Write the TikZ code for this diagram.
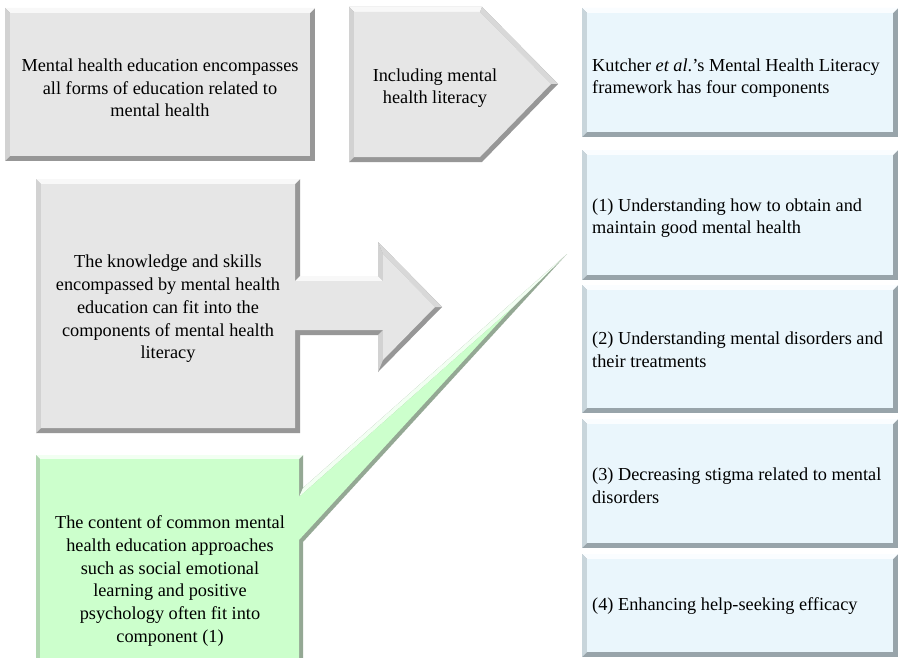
\documentclass[tikz,border=0pt]{standalone}
\usepackage{fontspec}
\setmainfont{Liberation Serif}
\definecolor{gmain}{HTML}{E6E6E6}
\definecolor{gtop}{HTML}{F8F8F8}
\definecolor{gleft}{HTML}{D2D2D2}
\definecolor{gslant}{HTML}{D8D8D8}
\definecolor{gdark}{HTML}{979797}
\definecolor{bmain}{HTML}{EAF6FC}
\definecolor{btop}{HTML}{FAFDFF}
\definecolor{bleft}{HTML}{C8D5DB}
\definecolor{bdark}{HTML}{98A4AA}
\definecolor{nmain}{HTML}{CCFFCC}
\definecolor{ntop}{HTML}{F2FFF2}
\definecolor{nleft}{HTML}{B0D6B0}
\definecolor{ndark}{HTML}{94A894}
\newcommand{\bevrect}[5]{%
  \fill[#5dark] (#1,#2) rectangle (#3,#4);
  \fill[#5top] (#1,#2) -- (#3,#2) -- ({#3-5},{#2+5}) -- ({#1+5},{#2+5}) -- cycle;
  \fill[#5left] (#1,#4) -- (#1,#2) -- ({#1+5},{#2+5}) -- ({#1+5},{#4-5}) -- cycle;
  \fill[#5main] ({#1+5},{#2+5}) rectangle ({#3-5},{#4-5});
}
\tikzset{
  txt/.style={font=\fontsize{18.3}{22.7}\selectfont, inner sep=0pt, text=black},
  ctxt/.style={txt, align=center},
  ltxt/.style={txt, align=left, anchor=west}
}
\begin{document}
\begin{tikzpicture}[x=1pt,y=-1pt]
\useasboundingbox (0,0) rectangle (899,658);
\fill[white] (0,0) rectangle (899,658);

% box 1
\bevrect{5}{8}{315}{161}{g}

% pentagon
\fill[gdark] (349,7) -- (482,7) -- (558,84) -- (482,162) -- (349,162) -- cycle;
\fill[gtop] (349,7) -- (482,7) -- (480,12) -- (354,12) -- cycle;
\fill[gslant] (482,7) -- (558,84) -- (551,84) -- (480,12) -- cycle;
\fill[gleft] (349,162) -- (349,7) -- (354,12) -- (354,157) -- cycle;
\fill[gmain] (354,12) -- (480,12) -- (551,84) -- (480,157) -- (354,157) -- cycle;

% blue boxes
\bevrect{582}{8}{898}{137}{b}
\bevrect{582}{150}{898}{280}{b}
\bevrect{582}{285}{898}{413}{b}
\bevrect{582}{419}{898}{548}{b}
\bevrect{582}{554}{898}{657}{b}

% gray box with arrow
\fill[gdark] (36,179) -- (300,179) -- (300,276) -- (378,276) -- (378,242) -- (442,307) -- (378,372) -- (378,335) -- (300,335) -- (300,433) -- (36,433) -- cycle;
\fill[gtop] (36,179) -- (300,179) -- (295,184) -- (41,184) -- cycle;
\fill[gleft] (36,433) -- (36,179) -- (41,184) -- (41,428) -- cycle;
\fill[gtop] (300,276) -- (378,276) -- (383,281) -- (295,281) -- cycle;
\fill[gleft] (378,276) -- (378,242) -- (383,254) -- (383,281) -- cycle;
\fill[gslant] (378,242) -- (442,307) -- (435,307) -- (383,254) -- cycle;
\fill[gleft] (378,372) -- (378,335) -- (383,330) -- (383,360) -- cycle;
\fill[gmain] (41,184) -- (295,184) -- (295,281) -- (383,281) -- (383,254) -- (435,307) -- (383,360) -- (383,330) -- (295,330) -- (295,428) -- (41,428) -- cycle;

% green callout
\fill[ndark] (36,455) -- (303,455) -- (303,488) -- (567,254) -- (303,542) -- (303,662) -- (36,662) -- cycle;
\fill[ntop] (36,455) -- (303,455) -- (299,459) -- (40,459) -- cycle;
\fill[nleft] (36,662) -- (36,455) -- (40,459) -- (40,662) -- cycle;
\fill[ntop] (303,488) -- (567,254) -- (512,308) -- (299,497) -- cycle;
\fill[nmain] (40,459) -- (299,459) -- (299,497) -- (512,308) -- (299,540) -- (299,662) -- (40,662) -- cycle;

% texts
\node[ctxt] (t1) at (160,88) {Mental health education encompasses\\all forms of education related to\\mental health};
\node[ctxt] (t2) at (435,88) {Including mental\\health literacy};
\node[ltxt] (k0) at (592,78) {Kutcher \textit{et al}.’s Mental Health Literacy\\framework has four components};
\node[ltxt] (k1) at (592,218) {(1) Understanding how to obtain and\\maintain good mental health};
\node[ltxt] (k2) at (592,350) {(2) Understanding mental disorders and\\their treatments};
\node[ltxt] (k3) at (592,486) {(3) Decreasing stigma related to mental\\disorders};
\node[ltxt] (k4) at (592,606) {(4) Enhancing help-seeking efficacy};
\node[ctxt] (t3) at (168,309) {The knowledge and skills\\encompassed by mental health\\education can fit into the\\components of mental health\\literacy};
\node[ctxt] (t4) at (170,581) {The content of common mental\\health education approaches\\such as social emotional\\learning and positive\\psychology often fit into\\component (1)};
\end{tikzpicture}
\end{document}
